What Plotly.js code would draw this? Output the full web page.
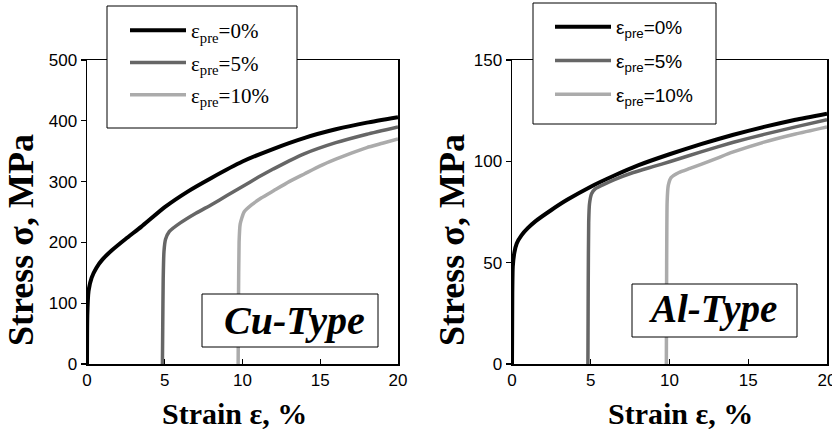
<!DOCTYPE html>
<html><head><meta charset="utf-8">
<script src="https://cdn.plot.ly/plotly-3.0.1.min.js"></script>
</head><body>
<div id="chart" style="position:absolute;left:0;top:0;width:832px;height:432px"></div>
<script>
// ---- data (strain %, stress MPa) ----
const seriesNames = ['ε<sub>pre</sub>=0%', 'ε<sub>pre</sub>=5%', 'ε<sub>pre</sub>=10%'];

const cuStrain0 = [0, 0.02, 0.1, 0.3, 0.6, 1, 1.6, 2.5, 3.5, 5, 6.5, 8, 10, 12, 14, 16, 18, 20];
const cuStress0 = [0, 80, 120, 142, 158, 172, 187, 206, 226, 258, 284, 306, 333, 354, 372, 386, 397, 406];
const cuStrain5 = [4.85, 4.87, 4.9, 4.95, 5.05, 5.3, 6, 7, 8, 9, 10, 11, 12, 13, 14, 16, 18, 20];
const cuStress5 = [0, 60, 140, 185, 205, 218, 232, 248, 262, 277, 292, 307, 321, 334, 346, 364, 378, 390];
const cuStrain10 = [9.72, 9.74, 9.78, 9.85, 10.1, 10.6, 11.2, 12, 13, 14, 15, 16, 17, 18, 19, 20];
const cuStress10 = [0, 100, 200, 230, 250, 262, 273, 285, 300, 313, 326, 337, 347, 356, 363, 370];

const alStrain0 = [0, 0.02, 0.05, 0.15, 0.3, 0.6, 1, 1.5, 2.5, 3.5, 5, 6.5, 8, 10, 12, 14, 16, 18, 20];
const alStress0 = [0, 35, 48, 55, 59.5, 63.5, 67, 70.5, 76, 81, 87.5, 93, 98, 103.5, 108.5, 113, 117, 120.5, 123.5];
const alStrain5 = [4.82, 4.84, 4.87, 4.92, 5.05, 5.3, 5.8, 6.5, 7.7, 9, 10, 12, 14, 16, 18, 20];
const alStress5 = [0, 40, 70, 79, 84, 86.5, 88.5, 91, 94.5, 97.5, 99.8, 104.7, 109.3, 113.3, 117, 120.5];
const alStrain10 = [9.8, 9.82, 9.85, 9.92, 10.1, 10.6, 11.3, 12, 13, 14, 16, 18, 20];
const alStress10 = [0, 50, 80, 88, 92, 94.5, 96.5, 98.5, 101.5, 104.5, 109.5, 113.5, 117];

const xTicks = [0, 5, 10, 15, 20];
const cuYTicks = [0, 100, 200, 300, 400, 500];
const alYTicks = [0, 50, 100, 150];

// ---- styling ----
const W = 832, H = 432;
const px = v => v / W, py = v => 1 - v / H;
const SERIF = 'Liberation Serif';
const SANS = 'Liberation Sans';
const lineStyles = [
  {color: '#000000', width: 4},
  {color: '#666666', width: 3.5},
  {color: '#ababab', width: 3.5}
];

function tr(x, y, i, xa, ya, leg) {
  return {x: x, y: y, type: 'scatter', mode: 'lines', name: seriesNames[i],
    line: Object.assign({shape: 'spline', smoothing: 0.5}, lineStyles[i]),
    xaxis: xa, yaxis: ya, legend: leg, legendgroup: leg + i, hoverinfo: 'skip'};
}

const data = [
  tr(cuStrain0, cuStress0, 0, 'x', 'y', 'legend'),
  tr(cuStrain5, cuStress5, 1, 'x', 'y', 'legend'),
  tr(cuStrain10, cuStress10, 2, 'x', 'y', 'legend'),
  tr(alStrain0, alStress0, 0, 'x2', 'y2', 'legend2'),
  tr(alStrain5, alStress5, 1, 'x2', 'y2', 'legend2'),
  tr(alStrain10, alStress10, 2, 'x2', 'y2', 'legend2')
];

function axis(extra) {
  return Object.assign({showline: true, mirror: true, linecolor: '#000', linewidth: 1.5,
    showgrid: false, zeroline: false, tickcolor: '#000', ticklen: 5, tickwidth: 1.2,
    ticklabeloverflow: 'allow',
    tickfont: {family: SANS, size: 17, color: '#000'}}, extra);
}
function ann(text, x, y, size, angle) {
  return {text: text, xref: 'paper', yref: 'paper', x: px(x), y: py(y), textangle: angle || 0,
    showarrow: false, xanchor: 'center', yanchor: 'middle',
    font: {family: SERIF, size: size, color: '#000'}};
}
function box(x0, x1, y0, y1) {
  return {type: 'rect', xref: 'paper', yref: 'paper', x0: px(x0), x1: px(x1), y0: py(y0), y1: py(y1),
    fillcolor: '#fff', line: {color: '#000', width: 1}, layer: 'above'};
}

const layout = {
  width: W, height: H,
  font: {family: SERIF, color: '#000'},
  margin: {l: 0, r: 0, t: 0, b: 0},
  paper_bgcolor: '#fff', plot_bgcolor: '#fff',
  xaxis: axis({domain: [px(87), px(398)], range: [0, 20], tickvals: xTicks, ticks: 'inside', anchor: 'y'}),
  yaxis: axis({domain: [py(364), py(60)], range: [0, 500], tickvals: cuYTicks, ticks: 'outside', anchor: 'x'}),
  xaxis2: axis({domain: [px(512), px(827)], range: [0, 20], tickvals: xTicks, ticks: 'inside', anchor: 'y2'}),
  yaxis2: axis({domain: [py(364), py(60)], range: [0, 150], tickvals: alYTicks, ticks: 'outside', anchor: 'x2'}),
  showlegend: true,
  legend: {x: px(125), y: py(10), xanchor: 'left', yanchor: 'top', bgcolor: 'rgba(0,0,0,0)', borderwidth: 0,
    font: {family: SERIF, size: 21, color: '#000'}, itemwidth: 56, tracegroupgap: 2},
  legend2: {x: px(550), y: py(8), xanchor: 'left', yanchor: 'top', bgcolor: 'rgba(0,0,0,0)', borderwidth: 0,
    font: {family: SANS, size: 19, color: '#000'}, itemwidth: 56, tracegroupgap: 6},
  shapes: [
    box(107, 297, 6, 128),
    box(533, 716, 3, 124),
    box(202, 378, 294, 347),
    box(632, 797, 284, 337)
  ],
  annotations: [
    ann('<b>Stress σ, MPa</b>', 21, 240, 36, -90),
    ann('<b>Stress σ, MPa</b>', 452, 240, 36, -90),
    ann('<b>Strain ε, %</b>', 234, 413, 30),
    ann('<b>Strain ε, %</b>', 680, 413, 30),
    ann('<b><i>Cu-Type</i></b>', 294, 320, 40),
    ann('<b><i>Al-Type</i></b>', 712, 309, 39)
  ]
};

Plotly.newPlot('chart', data, layout, {displayModeBar: false, staticPlot: true});
</script>
</body></html>
